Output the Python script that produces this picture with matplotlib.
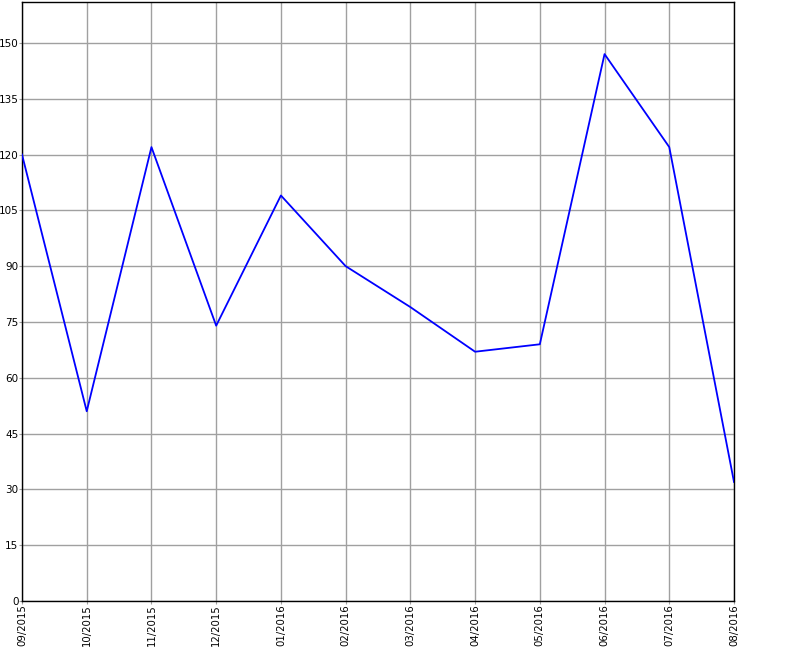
import matplotlib
matplotlib.use("Agg")
import matplotlib.pyplot as plt

months = ["09/2015", "10/2015", "11/2015", "12/2015", "01/2016", "02/2016",
          "03/2016", "04/2016", "05/2016", "06/2016", "07/2016", "08/2016"]
values = [120, 51, 122, 74, 109, 90, 79, 67, 69, 147, 122, 32]
yticks = list(range(0, 151, 15))

fig = plt.figure(figsize=(8, 6.5), dpi=100)
ax = fig.add_axes([22/800, 1-601/650, (734-22)/800, (601-2)/650])
x = list(range(len(months)))
ax.plot(x, values, color="#0000ff", linewidth=1.3, zorder=3)
ax.set_xlim(0, len(months)-1)
ax.set_ylim(0, 161)
ax.set_xticks(x)
ax.set_xticklabels(months, rotation=90, fontsize=7.3)
ax.set_yticks(yticks)
ax.set_yticklabels([str(t) for t in yticks], fontsize=7.5)
ax.grid(True, color="#a0a0a0", linewidth=1)
ax.tick_params(length=2, width=0.8, pad=0.5, color="#a0a0a0")
for s in ax.spines.values():
    s.set_color("black")
    s.set_linewidth(1)
fig.savefig("out.png", dpi=100)
